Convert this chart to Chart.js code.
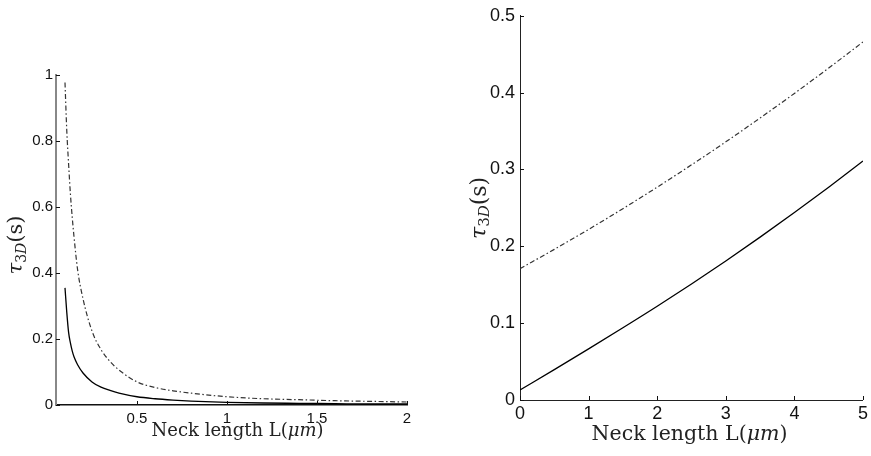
<!DOCTYPE html>
<html>
<head>
<meta charset="utf-8">
<script src="https://cdn.jsdelivr.net/npm/chart.js@4.4.1/dist/chart.umd.min.js"></script>
<style>
  html, body { margin: 0; padding: 0; background: #fff; }
  #wrap { position: relative; width: 871px; height: 456px; }
  .box { position: absolute; top: 0; height: 456px; }
</style>
</head>
<body>
<div id="wrap">
  <div class="box" style="left:0;width:430px"><canvas id="leftChart"></canvas></div>
  <div class="box" style="left:430px;width:441px"><canvas id="rightChart"></canvas></div>
</div>
<script>
// left panel: short necks
const leftL = [0.1, 0.11, 0.12, 0.13, 0.14, 0.15, 0.17, 0.2, 0.25, 0.3, 0.35, 0.4, 0.5, 0.6, 0.7, 0.8, 1.0, 1.2, 1.4, 1.6, 1.8, 2.0];
const leftSolid = [0.355, 0.28, 0.22, 0.188, 0.164, 0.146, 0.122, 0.097, 0.07, 0.054, 0.044, 0.036, 0.025, 0.019, 0.015, 0.012, 0.008, 0.006, 0.005, 0.004, 0.003, 0.003];
const leftDashed = [0.977, 0.83, 0.73, 0.64, 0.57, 0.51, 0.41, 0.322, 0.224, 0.168, 0.132, 0.106, 0.07, 0.053, 0.043, 0.036, 0.025, 0.019, 0.016, 0.013, 0.011, 0.009];
const leftXTicks = [0.5, 1, 1.5, 2];
const leftYTicks = [0, 0.2, 0.4, 0.6, 0.8, 1];

// right panel: longer necks
const rightL = [0, 0.5, 1, 1.5, 2, 2.5, 3, 3.5, 4, 4.5, 5];
const rightSolid = [0.013, 0.0395, 0.0665, 0.094, 0.122, 0.151, 0.181, 0.212, 0.244, 0.277, 0.311];
const rightDashed = [0.171, 0.196, 0.222, 0.249, 0.277, 0.306, 0.336, 0.367, 0.399, 0.432, 0.466];
const rightXTicks = [0, 1, 2, 3, 4, 5];
const rightYTicks = [0, 0.1, 0.2, 0.3, 0.4, 0.5];

const xTitle = 'Neck length L(';
const xTitleUnit = 'μm';
const yTitleSym = 'τ';
const yTitleSub = '3';
const yTitleSubIt = 'D';
const yTitleUnit = '(s)';

const SERIF = '"DejaVu Serif", "Liberation Serif", serif';
const SANS = '"Liberation Sans", Arial, sans-serif';

const toPoints = (xs, ys) => xs.map((x, i) => ({ x, y: ys[i] }));

const drawRich = (ctx, segs) => {
  let total = 0;
  segs.forEach(s => { ctx.font = s.font; s.w = ctx.measureText(s.text).width; total += s.w; });
  let x = -total / 2;
  segs.forEach(s => {
    ctx.font = s.font;
    ctx.fillText(s.text, x, s.dy || 0);
    x += s.w;
  });
};

// MATLAB style: ticks pointing into the plot, serif axis titles
const axisDecor = {
  id: 'axisDecor',
  afterDraw(chart, args, opts) {
    const { ctx, chartArea, scales } = chart;
    ctx.save();
    ctx.strokeStyle = '#111';
    ctx.lineWidth = 1;
    scales.x.ticks.forEach(t => {
      const px = Math.round(scales.x.getPixelForValue(t.value)) + 0.5;
      ctx.beginPath();
      ctx.moveTo(px, chartArea.bottom);
      ctx.lineTo(px, chartArea.bottom - opts.tick);
      ctx.stroke();
    });
    scales.y.ticks.forEach(t => {
      const py = Math.round(scales.y.getPixelForValue(t.value)) + 0.5;
      ctx.beginPath();
      ctx.moveTo(chartArea.left, py);
      ctx.lineTo(chartArea.left + opts.tick, py);
      ctx.stroke();
    });

    ctx.fillStyle = '#222';
    ctx.textBaseline = 'middle';
    ctx.textAlign = 'left';
    const fs = opts.titleSize;
    const ys = opts.yTitleSize;
    const sub = Math.round(ys * 0.68);

    ctx.save();
    ctx.translate((chartArea.left + chartArea.right) / 2 + opts.xTitleDx, chartArea.bottom + opts.xTitleDy);
    drawRich(ctx, [
      { text: xTitle, font: `${fs}px ${SERIF}` },
      { text: xTitleUnit, font: `italic ${fs}px ${SERIF}` },
      { text: ')', font: `${fs}px ${SERIF}` }
    ]);
    ctx.restore();

    ctx.save();
    ctx.translate(opts.yTitleX, (chartArea.top + chartArea.bottom) / 2 + opts.yTitleDy);
    ctx.rotate(-Math.PI / 2);
    drawRich(ctx, [
      { text: yTitleSym, font: `italic ${ys}px ${SERIF}` },
      { text: yTitleSub, font: `${sub}px ${SERIF}`, dy: ys * 0.25 },
      { text: yTitleSubIt, font: `italic ${sub}px ${SERIF}`, dy: ys * 0.25 },
      { text: yTitleUnit, font: `${ys}px ${SERIF}` }
    ]);
    ctx.restore();
    ctx.restore();
  }
};

const makeChart = (id, cfg) => {
  const ctx = document.getElementById(id).getContext('2d');
  return new Chart(ctx, {
    type: 'line',
    data: {
      datasets: [
        {
          data: toPoints(cfg.xs, cfg.solid),
          borderColor: '#000',
          borderWidth: 1.3,
          pointRadius: 0,
          cubicInterpolationMode: 'monotone'
        },
        {
          data: toPoints(cfg.xs, cfg.dashed),
          borderColor: '#333',
          borderWidth: 1.2,
          borderDash: [5, 2.5, 1.5, 2.5],
          pointRadius: 0,
          cubicInterpolationMode: 'monotone'
        }
      ]
    },
    options: {
      responsive: true,
      maintainAspectRatio: false,
      animation: false,
      layout: { padding: cfg.padding },
      plugins: {
        legend: { display: false },
        tooltip: { enabled: false },
        axisDecor: cfg.decor
      },
      scales: {
        x: {
          type: 'linear',
          min: cfg.xMin,
          max: cfg.xMax,
          afterBuildTicks: (axis) => { axis.ticks = cfg.xTicks.map(v => ({ value: v })); },
          afterFit: (axis) => { axis.height = cfg.xAxisHeight; },
          grid: { display: true, drawOnChartArea: false, drawTicks: false },
          border: { color: cfg.xBorder, width: cfg.xBorderWidth },
          ticks: {
            color: '#111',
            padding: cfg.xTickPad,
            maxRotation: 0,
            font: { family: SANS, size: cfg.tickSize },
            callback: (v) => String(v)
          }
        },
        y: {
          type: 'linear',
          min: cfg.yMin,
          max: cfg.yMax,
          afterBuildTicks: (axis) => { axis.ticks = cfg.yTicks.map(v => ({ value: v })); },
          afterFit: (axis) => { axis.width = cfg.yAxisWidth; },
          grid: { display: true, drawOnChartArea: false, drawTicks: false },
          border: { color: cfg.yBorder, width: cfg.yBorderWidth },
          ticks: {
            color: '#111',
            padding: cfg.yTickPad,
            font: { family: SANS, size: cfg.tickSize },
            callback: (v) => String(v)
          }
        }
      }
    },
    plugins: [axisDecor]
  });
};

makeChart('leftChart', {
  xs: leftL, solid: leftSolid, dashed: leftDashed,
  xMin: 0.05, xMax: 2, yMin: 0, yMax: 1,
  xTicks: leftXTicks, yTicks: leftYTicks,
  padding: { top: 75, right: 23, left: 0, bottom: 0 },
  xAxisHeight: 51, yAxisWidth: 56,
  xBorder: '#111', xBorderWidth: 1.5, yBorder: '#888', yBorderWidth: 2,
  xTickPad: 5, yTickPad: 3, tickSize: 15,
  decor: { tick: 4, titleSize: 18, yTitleSize: 21, xTitleDx: 6, xTitleDy: 26, yTitleX: 17, yTitleDy: 5 }
});

makeChart('rightChart', {
  xs: rightL, solid: rightSolid, dashed: rightDashed,
  xMin: 0, xMax: 5, yMin: 0, yMax: 0.5,
  xTicks: rightXTicks, yTicks: rightYTicks,
  padding: { top: 9, right: 4, left: 0, bottom: 0 },
  xAxisHeight: 56, yAxisWidth: 90,
  xBorder: '#222', xBorderWidth: 1, yBorder: '#222', yBorderWidth: 1,
  xTickPad: 3, yTickPad: 5, tickSize: 18,
  decor: { tick: 4, titleSize: 20.5, yTitleSize: 22, xTitleDx: -2, xTitleDy: 35, yTitleX: 50, yTitleDy: 0 }
});
</script>
</body>
</html>
